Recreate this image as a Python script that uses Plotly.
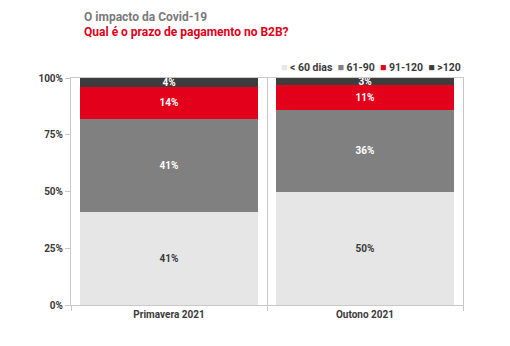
import plotly.graph_objects as go

categories = ["Primavera 2021", "Outono 2021"]
series_names = ["< 60 dias", "61-90", "91-120", ">120"]
lt60 = [41, 50]
d61_90 = [41, 36]
d91_120 = [14, 11]
gt120 = [4, 3]
series_values = [lt60, d61_90, d91_120, gt120]
colors = ["#e6e6e6", "#808080", "#e2001a", "#3d3d3d"]
text_colors = ["#3a3a3a", "white", "white", "white"]
y_ticks = [0, 25, 50, 75, 100]
y_tick_labels = ["0%", "25%", "50%", "75%", "100%"]

FONT = "Roboto"

fig = go.Figure()
for name, vals, col, tcol in zip(series_names, series_values, colors, text_colors):
    fig.add_trace(go.Bar(
        x=categories, y=vals, name=name,
        marker=dict(color=col, line=dict(width=0)),
        text=[f"{v}%" for v in vals],
        textposition="inside", insidetextanchor="middle",
        constraintext="none", cliponaxis=False,
        textfont=dict(family=FONT, size=10, color=tcol, weight="bold"),
        showlegend=False,
    ))

legend_html = "&nbsp;&nbsp;".join(
    f"<span style='color:{c}'>■</span> {n.replace('<', '&lt;').replace('>', '&gt;')}"
    for n, c in zip(series_names, colors)
)

fig.update_layout(
    width=510, height=346,
    margin=dict(l=71, r=47, t=78, b=41),
    barmode="stack", bargap=0.09,
    plot_bgcolor="white", paper_bgcolor="white",
    font=dict(family=FONT, color="#3a3a3a"),
    title=dict(
        text="O impacto da Covid-19<br><span style='color:#e2001a'>Qual é o prazo de pagamento no B2B?</span>",
        x=17 / 510, xanchor="left", xref="paper", y=0.94, yanchor="top", yref="container",
        font=dict(family=FONT, size=12, color="#7a7a7a", weight="bold"),
    ),
    annotations=[dict(
        text=legend_html, xref="paper", yref="paper", x=1.0, y=1.045,
        xanchor="right", yanchor="middle", showarrow=False,
        font=dict(family=FONT, size=10.5, color="#3a3a3a", weight="bold"),
    )],
    xaxis=dict(
        showline=True, linecolor="#c8c8c8", linewidth=1, mirror=True,
        tickson="boundaries", ticks="outside", ticklen=5, tickcolor="#c8c8c8",
        showgrid=True, gridcolor="#c8c8c8", gridwidth=1,
        tickfont=dict(family=FONT, size=10, color="#3a3a3a", weight="bold"),
    ),
    yaxis=dict(
        range=[0, 100], tickvals=y_ticks, ticktext=y_tick_labels,
        showline=True, linecolor="#c8c8c8", linewidth=1, mirror=True,
        ticks="outside", ticklen=5, tickcolor="#c8c8c8", showgrid=False, zeroline=False,
        tickfont=dict(family=FONT, size=10, color="#3a3a3a", weight="bold"),
    ),
)

fig.write_html("out.html")
